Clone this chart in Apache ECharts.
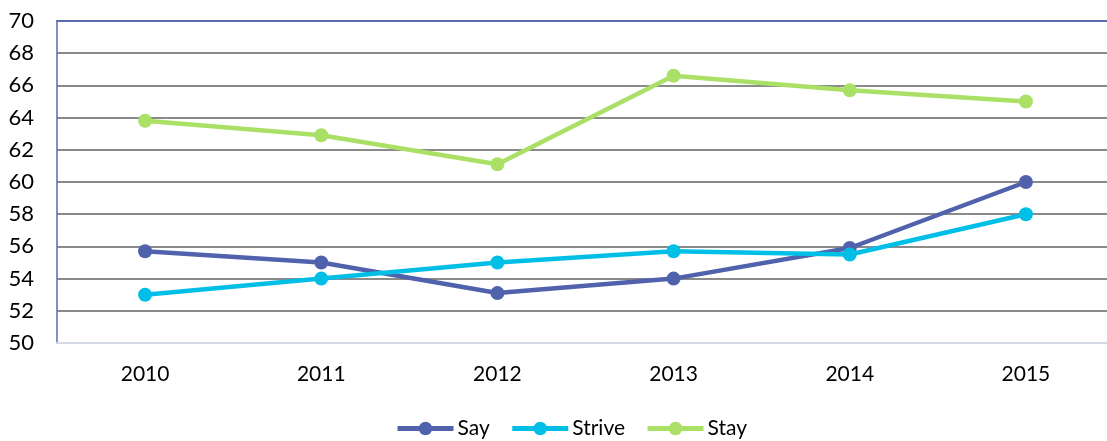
<!DOCTYPE html>
<html>
<head>
<meta charset="utf-8">
<script src="https://cdn.jsdelivr.net/npm/echarts@6/dist/echarts.min.js"></script>
<style>
  html, body { margin: 0; padding: 0; background: #fff; }
  #chart { width: 1107px; height: 441px; }
</style>
</head>
<body>
<div id="chart"></div>
<script>
// Survey index by year
const years = ['2010', '2011', '2012', '2013', '2014', '2015'];
const say = [55.7, 55.0, 53.1, 54.0, 55.9, 60.0];
const strive = [53.0, 54.0, 55.0, 55.7, 55.5, 58.0];
const stay = [63.8, 62.9, 61.1, 66.6, 65.7, 65.0];

const FONT = 'Lato, "Open Sans", "Liberation Sans", sans-serif';

function lineSeries(name, data, color) {
  return {
    name: name,
    type: 'line',
    data: data,
    symbol: 'circle',
    symbolSize: 14,
    lineStyle: { color: color, width: 4.5 },
    itemStyle: { color: color },
    emphasis: { disabled: true }
  };
}

const chart = echarts.init(document.getElementById('chart'));
chart.setOption({
  animation: false,
  textStyle: { fontFamily: FONT },
  // plot runs a little past the right edge of the canvas
  grid: { left: 57, width: 1057, top: 21, height: 322, outerBoundsMode: 'none', containLabel: false },
  legend: {
    top: 418,
    left: 395,
    padding: 0,
    itemWidth: 56,
    itemHeight: 17,
    itemGap: 20,
    lineStyle: { width: 5 },
    textStyle: { fontSize: 21, color: '#000', fontFamily: FONT, padding: [0, 0, 0, -1] },
    data: ['Say', 'Strive', 'Stay']
  },
  xAxis: [{
    type: 'category',
    data: years,
    boundaryGap: true,
    axisLine: { lineStyle: { color: '#D5D9E6', width: 2 } },
    axisTick: { show: false },
    axisLabel: { fontSize: 21, color: '#000', margin: 21 }
  }, {
    type: 'category',
    position: 'top',
    data: years,
    axisLine: { lineStyle: { color: '#5A6BB0', width: 2 } },
    axisTick: { show: false },
    axisLabel: { show: false }
  }],
  yAxis: {
    type: 'value',
    min: 50,
    max: 70,
    interval: 2,
    axisLine: { show: true, lineStyle: { color: '#5A6BB0', width: 1.5 } },
    axisTick: { show: false },
    axisLabel: { fontSize: 22, color: '#000', margin: 23 },
    splitLine: { lineStyle: { color: '#8A8A8A', width: 2 } }
  },
  series: [
    lineSeries('Say', say, '#5162AC'),
    lineSeries('Strive', strive, '#00BFE7'),
    lineSeries('Stay', stay, '#A9E065')
  ]
});
</script>
</body>
</html>
